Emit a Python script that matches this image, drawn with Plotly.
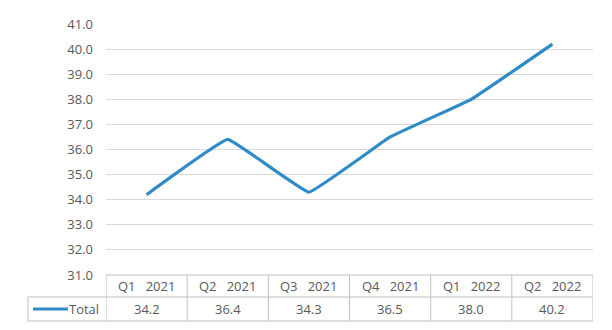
import plotly.graph_objects as go

categories = ["Q1   2021", "Q2   2021", "Q3   2021", "Q4   2021", "Q1   2022", "Q2   2022"]
series_name = "Total"
values = [34.2, 36.4, 34.3, 36.5, 38.0, 40.2]
y_ticks = [31.0, 32.0, 33.0, 34.0, 35.0, 36.0, 37.0, 38.0, 39.0, 40.0, 41.0]

LINE_COLOR = "#2E8BC6"
TEXT_COLOR = "#595959"
GRID = "#D9D9D9"
BORDER = "#BFBFBF"
FONT = "Open Sans"

W, H = 612, 330
ml, mr, mt, mb = 106, 19, 24, 55
plot_h = H - mt - mb
plot_w = W - ml - mr

def py(px):  # pixel row below plot -> paper y
    return (H - mb - px) / plot_h

def px_(p):  # pixel column -> paper x
    return (p - ml) / plot_w

xs = list(range(len(categories)))

fig = go.Figure()
fig.add_trace(go.Scatter(
    x=xs, y=values, mode="lines", name=series_name,
    line=dict(color=LINE_COLOR, width=3.2, shape="spline", smoothing=0.2),
    hoverinfo="skip", showlegend=False,
))

shapes = []
row1_bottom = py(H - mb + 22)
row2_bottom = py(H - mb + 46)
shapes.append(dict(type="line", xref="x", yref="paper", x0=-0.5, x1=len(xs) - 0.5, y0=0, y1=0,
                   line=dict(color=BORDER, width=1)))
shapes.append(dict(type="line", xref="paper", yref="paper", x0=px_(28), x1=1, y0=row1_bottom, y1=row1_bottom,
                   line=dict(color=BORDER, width=1)))
shapes.append(dict(type="line", xref="paper", yref="paper", x0=px_(28), x1=1, y0=row2_bottom, y1=row2_bottom,
                   line=dict(color=BORDER, width=1)))
for i in range(len(xs) + 1):
    shapes.append(dict(type="line", xref="x", yref="paper", x0=i - 0.5, x1=i - 0.5, y0=0, y1=row2_bottom,
                       line=dict(color=BORDER, width=1)))
shapes.append(dict(type="line", xref="paper", yref="paper", x0=px_(28), x1=px_(28), y0=row1_bottom, y1=row2_bottom,
                   line=dict(color=BORDER, width=1)))
key_y = (row1_bottom + row2_bottom) / 2
shapes.append(dict(type="line", xref="paper", yref="paper", x0=px_(33), x1=px_(68), y0=key_y, y1=key_y,
                   line=dict(color=LINE_COLOR, width=3.2)))

annotations = []
row1_mid = (0 + row1_bottom) / 2
for i, c in enumerate(categories):
    annotations.append(dict(x=i, xref="x", y=row1_mid, yref="paper", text=c.replace(" ", "&nbsp;"),
                            showarrow=False, font=dict(size=13, color=TEXT_COLOR, family=FONT),
                            xanchor="center", yanchor="middle"))
    annotations.append(dict(x=i, xref="x", y=key_y, yref="paper", text=f"{values[i]:.1f}",
                            showarrow=False, font=dict(size=13, color=TEXT_COLOR, family=FONT),
                            xanchor="center", yanchor="middle"))
annotations.append(dict(x=px_(67), xref="paper", y=key_y, yref="paper", text=series_name,
                        showarrow=False, font=dict(size=13, color=TEXT_COLOR, family=FONT),
                        xanchor="left", yanchor="middle"))

fig.update_layout(
    width=W, height=H,
    margin=dict(l=ml, r=mr, t=mt, b=mb),
    paper_bgcolor="white", plot_bgcolor="white",
    xaxis=dict(range=[-0.5, len(xs) - 0.5], showticklabels=False, showgrid=False,
               zeroline=False, showline=False, fixedrange=True),
    yaxis=dict(range=[31, 41], tickvals=y_ticks, ticktext=[f"{v:.1f}" for v in y_ticks],
               showgrid=True, gridcolor=GRID, gridwidth=1, zeroline=False, showline=False,
               ticks="", ticklabelstandoff=12,
               tickfont=dict(size=13, color=TEXT_COLOR, family=FONT)),
    shapes=shapes, annotations=annotations,
    showlegend=False,
)

fig.write_html("out.html")
